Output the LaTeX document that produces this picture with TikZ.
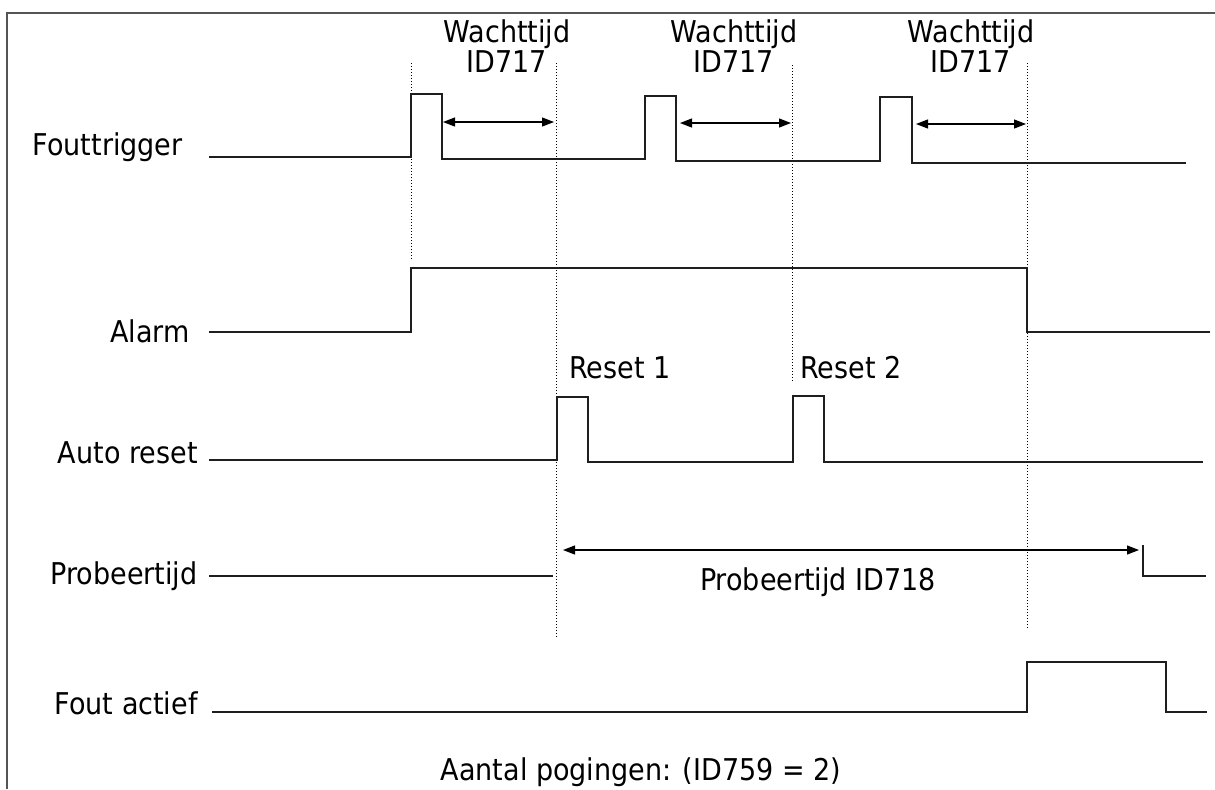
\documentclass[tikz,border=0pt]{standalone}
\usepackage{fontspec}
\setmainfont{DejaVu Sans}[FakeStretch=0.9]
\usetikzlibrary{arrows.meta}
\definecolor{framegray}{RGB}{85,85,85}
\definecolor{wavecol}{RGB}{30,30,30}
\tikzset{
    wave/.style={draw=wavecol, line width=0.7pt},
    guide/.style={densely dotted, line width=0.5pt},
    dimarrow/.style={<->, >={Triangle[length=6pt, width=4.5pt]}, line width=0.6pt},
    txt/.style={font=\fontsize{15}{18}\selectfont, inner sep=0pt},
    siglbl/.style={txt, anchor=base east},
    waitlbl/.style={font=\fontsize{15}{15}\selectfont, inner sep=0pt, align=center, anchor=north}
}

\begin{document}
\begin{tikzpicture}[x=0.5pt, y=-0.5pt]
    \useasboundingbox (0,0) rectangle (1215,789);
    \draw[framegray, line width=0.8pt] (7,789) -- (7,13) -- (1215,13);

    % signal names
    \node[siglbl] (fout) at (183,155) {Fouttrigger};
    \node[siglbl] (alarm) at (190,342) {Alarm};
    \node[siglbl] (auto) at (198,463) {Auto reset};
    \node[siglbl] (probeer) at (198,584) {Probeertijd};
    \node[siglbl] (actief) at (198,714) {Fout actief};

    % time markers
    \draw[guide] (411,63) -- (411,260);
    \draw[guide] (556,63) -- (556,637);
    \draw[guide] (792,65) -- (792,383);
    \draw[guide] (1027,63) -- (1027,630);

    % waveforms
    \draw[wave] (209,157) -| (411,94) -| (442,159) -| (645,96) -| (676,161) -| (880,97) -| (912,163) -- (1186,163);
    \draw[wave] (209,332) -| (411,268) -| (1027,332) -- (1210,332);
    \draw[wave] (209,460) -| (557,397) -| (588,462) -| (793,396) -| (824,462) -- (1203,462);
    \draw[wave] (209,576) -- (553,576);
    \draw[wave] (1143,545) |- (1206,576);
    \draw[wave] (212,712) -| (1027,662) -| (1166,712) -- (1207,712);

    % wait times
    \node[waitlbl] (wt1) at (507,19) {Wachttijd\\ID717};
    \node[waitlbl] (wt2) at (734,19) {Wachttijd\\ID717};
    \node[waitlbl] (wt3) at (971,19) {Wachttijd\\ID717};
    \coordinate (w1s) at (443,122);
    \coordinate (w1e) at (554,122);
    \coordinate (w2s) at (680,123);
    \coordinate (w2e) at (791,123);
    \coordinate (w3s) at (916,124);
    \coordinate (w3e) at (1026,124);
    \draw[dimarrow] (w1s) -- (w1e);
    \draw[dimarrow] (w2s) -- (w2e);
    \draw[dimarrow] (w3s) -- (w3e);

    % resets and try time
    \node[txt, anchor=base west] (reset1) at (569,378) {Reset 1};
    \node[txt, anchor=base west] (reset2) at (800,378) {Reset 2};
    \coordinate (ps) at (563,550);
    \coordinate (pe) at (1139,550);
    \draw[dimarrow] (ps) -- (pe);
    \node[txt, anchor=base] (ptijd) at (818,590) {Probeertijd ID718};

    \node[txt, anchor=base] (pogingen) at (641,780) {Aantal pogingen: (ID759 = 2)};
\end{tikzpicture}
\end{document}
